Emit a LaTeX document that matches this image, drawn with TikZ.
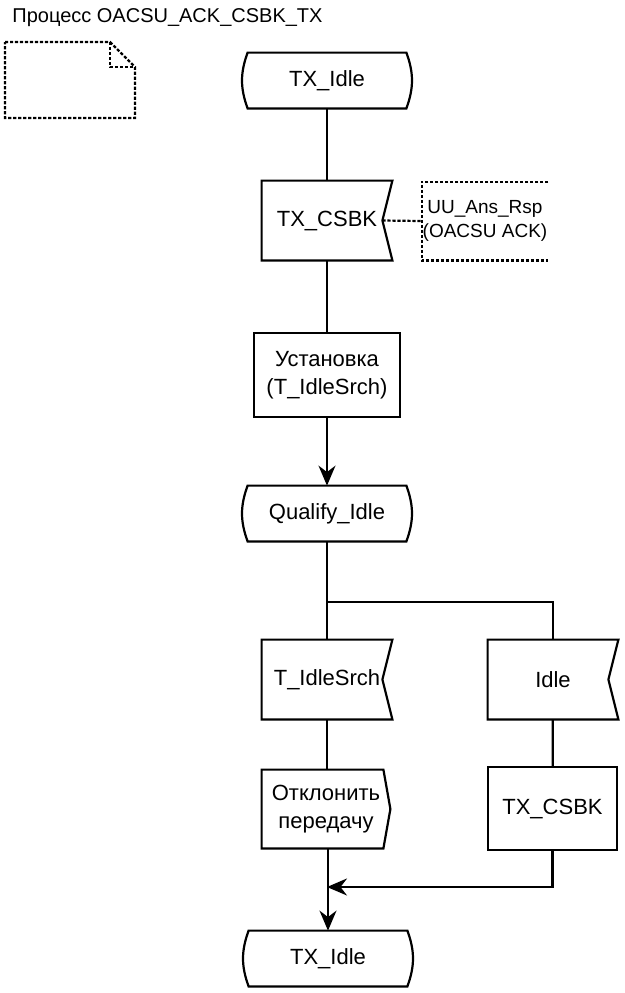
\documentclass[tikz,border=0pt]{standalone}
\usepackage{fontspec}
\setmainfont{Liberation Sans}
\usetikzlibrary{arrows.meta, positioning, calc}

\begin{document}
\begin{tikzpicture}[x=0.5pt, y=0.5pt,
  line/.style={line width=1.1pt},
  arr/.style={line, -{Stealth[length=10pt, width=8.5pt]}},
  dots/.style={line width=1.1pt, dash pattern=on 1.6pt off 0.9pt},
  base/.style={inner sep=0pt, align=center, font=\fontsize{11}{14}\selectfont},
  state/.style={base, minimum width=79pt, minimum height=27.5pt,
    append after command={\pgfextra{\draw[line] (\tikzlastnode.north west) -- (\tikzlastnode.north east)
      to[out=-70, in=70] (\tikzlastnode.south east) -- (\tikzlastnode.south west)
      to[out=110, in=-110] (\tikzlastnode.north west) -- cycle;}}},
  insig/.style={base, minimum width=65pt, minimum height=39.5pt,
    append after command={\pgfextra{\draw[line] (\tikzlastnode.north west) -- (\tikzlastnode.north east)
      -- ([xshift=-5pt]\tikzlastnode.east) -- (\tikzlastnode.south east)
      -- (\tikzlastnode.south west) -- cycle;}}},
  outsig/.style={base, minimum width=64pt, minimum height=39pt,
    append after command={\pgfextra{\draw[line] (\tikzlastnode.north west) -- ([xshift=-3.5pt]\tikzlastnode.north east)
      -- (\tikzlastnode.east) -- ([xshift=-3.5pt]\tikzlastnode.south east)
      -- (\tikzlastnode.south west) -- cycle;}}},
  task/.style={base, draw, line, minimum width=73pt, minimum height=42pt},
  note/.style={base, font=\fontsize{9.5}{12}\selectfont, minimum width=63pt, minimum height=39pt}]
  \useasboundingbox (0,0) rectangle (625,-993);
  \node[base, font=\fontsize{10}{12}\selectfont, anchor=base west] (title) at (12,-22) {Процесс OACSU\_ACK\_CSBK\_TX};
  % page symbol
  \draw[dots] (5,-42) -- (110,-42) -- (135,-67) -- (135,-118) -- (5,-118) -- cycle;
  \draw[dots] (110,-42) -- (110,-67) -- (135,-67);
  \node[state]  (tx1)    at (327,-80.5)  {TX\_Idle};
  \node[insig]  (csbk1)  at (327,-220.5) {TX\_CSBK};
  \node[note]   (cmt)    at (485,-221)   {UU\_Ans\_Rsp\\(OACSU ACK)};
  \node[task]   (setup)  at (327,-375)   {Установка\\(T\_IdleSrch)};
  \node[state]  (qual)   at (327,-513.5) {Qualify\_Idle};
  \node[insig]  (tsrch)  at (327,-679.5) {T\_IdleSrch};
  \node[insig]  (idle)   at (553,-679.5) {Idle};
  \node[outsig] (reject) at (326,-809)   {Отклонить\\передачу};
  \node[task, minimum width=64.5pt, minimum height=41.5pt] (csbk2) at (552.5,-808.5) {TX\_CSBK};
  \node[state]  (tx2)    at (328,-958.5) {TX\_Idle};
  \coordinate (br) at (327,-602);
  \coordinate (jn) at (327,-887);
  \draw[dots] (cmt.north east) -- (cmt.north west) -- (cmt.south west) -- (cmt.south east);
  \draw[dots] ([xshift=-5pt]csbk1.east) -- (cmt.west);
  \draw[line] (tx1) -- (csbk1);
  \draw[line] (csbk1) -- (setup);
  \draw[arr]  (setup) -- (qual);
  \draw[line] (qual) -- (tsrch);
  \draw[line] (br) -| (idle);
  \draw[line] (tsrch) -- (reject.north -| tsrch);
  \draw[line] (idle) -- (csbk2);
  \draw[arr]  (reject.south -| tx2) -- (tx2);
  \draw[arr]  (csbk2) |- (jn);
\end{tikzpicture}
\end{document}
